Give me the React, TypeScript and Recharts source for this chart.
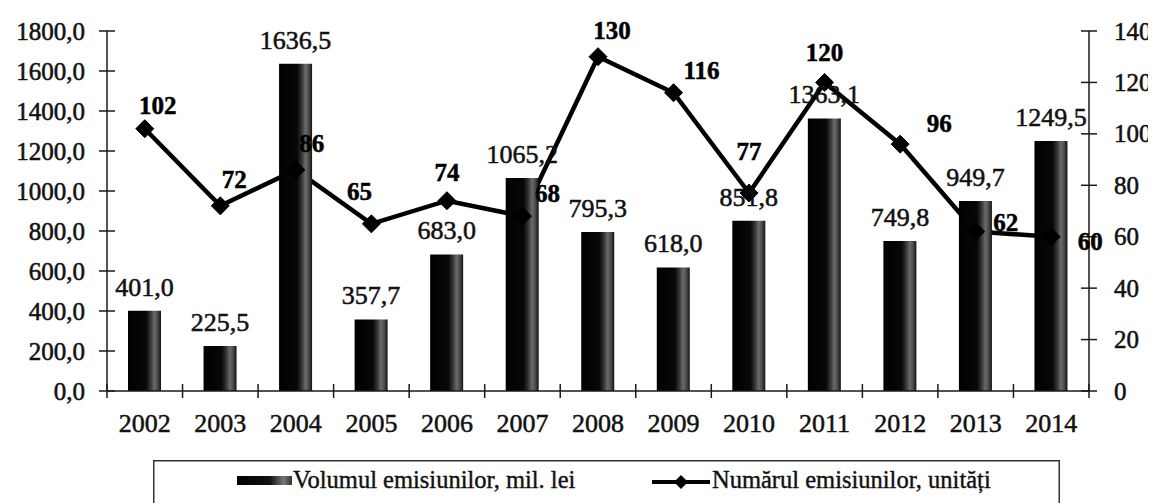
import React from 'react';
import { ComposedChart, Bar, Line, XAxis, YAxis, LabelList, Legend } from 'recharts';

const years = ['2002', '2003', '2004', '2005', '2006', '2007', '2008', '2009', '2010', '2011', '2012', '2013', '2014'];
const volume = [401.0, 225.5, 1636.5, 357.7, 683.0, 1065.2, 795.3, 618.0, 851.8, 1363.1, 749.8, 949.7, 1249.5];
const count = [102, 72, 86, 65, 74, 68, 130, 116, 77, 120, 96, 62, 60];
const leftTicks = [0, 200, 400, 600, 800, 1000, 1200, 1400, 1600, 1800];
const rightTicks = [0, 20, 40, 60, 80, 100, 120, 140];
const volumeName = 'Volumul emisiunilor, mil. lei';
const countName = 'Numărul emisiunilor, unități';

const data = years.map((y, i) => ({ year: y, volume: volume[i], count: count[i] }));

// label offsets (style) for line labels relative to point: [dx, dy]
const lineLabelOffsets: [number, number][] = [
  [13, -23], [14, -26], [16, -26], [-12, -32], [0, -28], [25, -23], [14, -26],
  [28, -22], [0, -42], [0, -30], [39, -21], [30, -9], [39, 5],
];

const FONT = '"Liberation Serif", "Times New Roman", serif';
const AXIS = '#1a1a1a';
const TXT = '#111';
const fmt = (v: number) => v.toFixed(1).replace('.', ',');

const LeftTick = (props: any) => {
  const { x, y, payload } = props;
  return (
    <g>
      <line x1={x - 8} x2={x + 8} y1={y} y2={y} stroke={AXIS} strokeWidth={1.5} />
      <text x={x - 22} y={y + 8.5} textAnchor="end" fontFamily={FONT} fontSize={25} fill={TXT}
        stroke={TXT} strokeWidth={0.55}>
        {fmt(payload.value)}
      </text>
    </g>
  );
};

const RightTick = (props: any) => {
  const { x, y, payload } = props;
  return (
    <g>
      <line x1={x - 8} x2={x + 8} y1={y} y2={y} stroke={AXIS} strokeWidth={1.5} />
      <text x={x + 25} y={y + 8.5} textAnchor="start" fontFamily={FONT} fontSize={25} fill={TXT}
        stroke={TXT} strokeWidth={0.55}>
        {payload.value}
      </text>
    </g>
  );
};

const XTick = (props: any) => {
  const { x, y, payload, index } = props;
  const half = payload && payload.offset ? payload.offset : 75.54 / 2;
  const last = index === years.length - 1;
  return (
    <g>
      <line x1={x - half} x2={x - half} y1={y - 7} y2={y + 7} stroke={AXIS} strokeWidth={1.5} />
      {last && <line x1={x + half} x2={x + half} y1={y - 7} y2={y + 7} stroke={AXIS} strokeWidth={1.5} />}
      <text x={x} y={y + 41} textAnchor="middle" fontFamily={FONT} fontSize={26} fill={TXT}
        stroke={TXT} strokeWidth={0.5}>
        {payload.value}
      </text>
    </g>
  );
};

const Diamond = (props: any) => {
  const { cx, cy } = props;
  if (cx == null || cy == null) return null;
  const s = 9;
  return <polygon points={`${cx},${cy - s} ${cx + s},${cy} ${cx},${cy + s} ${cx - s},${cy}`} fill="#000" stroke="#000" />;
};

const LineLabel = (props: any) => {
  const { x, y, value, index } = props;
  const off = lineLabelOffsets[index] || [0, -26];
  return (
    <text x={x + off[0]} y={y + off[1]} textAnchor="middle" dominantBaseline="central"
      fontFamily={FONT} fontSize={25} fontWeight="bold" fill="#000" stroke="#000" strokeWidth={0.5}>
      {value}
    </text>
  );
};

const LegendBox = () => (
  <svg width={907} height={60} style={{ display: 'block' }}>
    <defs>
      <linearGradient id="barGradL" x1="0" y1="0" x2="1" y2="0">
        <stop offset="0%" stopColor="#000" />
        <stop offset="60%" stopColor="#111" />
        <stop offset="85%" stopColor="#777" />
        <stop offset="100%" stopColor="#333" />
      </linearGradient>
    </defs>
    <rect x={0.75} y={0.75} width={905.5} height={58} fill="#fff" stroke="#333" strokeWidth={1.5} />
    <rect x={84} y={16} width={55} height={9} fill="url(#barGradL)" />
    <text x={140} y={28} fontFamily={FONT} fontSize={24.5} fill={TXT} stroke={TXT} strokeWidth={0.4}>{volumeName}</text>
    <line x1={499} x2={557} y1={22} y2={22} stroke="#000" strokeWidth={4} />
    <polygon points="528,15 535,22 528,29 521,22" fill="#000" />
    <text x={559} y={28} fontFamily={FONT} fontSize={24.5} fill={TXT} stroke={TXT} strokeWidth={0.4}>{countName}</text>
  </svg>
);

export default function App() {
  return (
    <div style={{ position: 'relative', width: 1148, height: 495 }}>
      <ComposedChart width={1148} height={495} data={data} margin={{ top: 23, right: 0, bottom: 0, left: 0 }}>
        <defs>
          <linearGradient id="barGrad" x1="0" y1="0" x2="1" y2="0">
            <stop offset="0%" stopColor="#000" />
            <stop offset="55%" stopColor="#080808" />
            <stop offset="68%" stopColor="#333" />
            <stop offset="80%" stopColor="#6a6a6a" />
            <stop offset="90%" stopColor="#4a4a4a" />
            <stop offset="100%" stopColor="#111" />
          </linearGradient>
        </defs>
        <XAxis dataKey="year" height={112} tickSize={0} tickMargin={0} tickLine={false}
          axisLine={{ stroke: AXIS, strokeWidth: 1.5 }} tick={<XTick />} interval={0} />
        <YAxis yAxisId="left" orientation="left" width={99} domain={[0, 1800]} ticks={leftTicks}
          tickSize={0} tickMargin={0} tickLine={false} axisLine={{ stroke: AXIS, strokeWidth: 1.5 }}
          tick={<LeftTick />} interval={0} />
        <YAxis yAxisId="right" orientation="right" width={67} domain={[0, 140]} ticks={rightTicks}
          tickSize={0} tickMargin={0} tickLine={false} axisLine={{ stroke: AXIS, strokeWidth: 1.5 }}
          tick={<RightTick />} interval={0} />
        <Line yAxisId="right" dataKey="count" name={countName} stroke="#000" strokeWidth={4.5}
          dot={<Diamond />} activeDot={false} isAnimationActive={false} type="linear"
          {...({ zIndex: 250 } as any)}>
          <LabelList dataKey="count" content={<LineLabel />} />
        </Line>
        <Bar yAxisId="left" dataKey="volume" name={volumeName} barSize={33} fill="url(#barGrad)"
          isAnimationActive={false} {...({ zIndex: 450 } as any)}>
          <LabelList dataKey="volume" position="top" offset={15} formatter={(v: any) => fmt(Number(v))}
            style={{ fontFamily: FONT, fontSize: 26, fill: TXT, stroke: TXT, strokeWidth: 0.55 }} />
        </Bar>
        <Legend verticalAlign="middle" align="center" layout="horizontal"
          wrapperStyle={{ position: 'absolute', left: 145, top: 452, width: 907, height: 60 }}
          content={() => <LegendBox />} />
      </ComposedChart>
    </div>
  );
}
